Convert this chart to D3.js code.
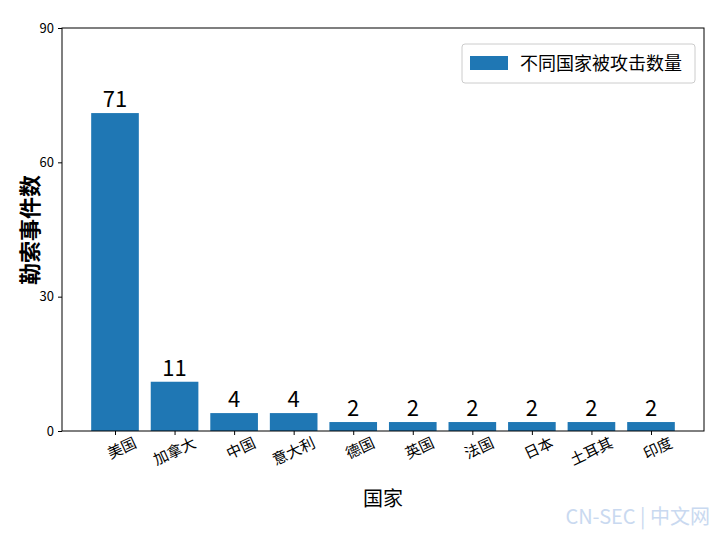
<!DOCTYPE html>
<html><head><meta charset="utf-8">
<script src="https://cdn.jsdelivr.net/npm/d3@7"></script>
<style>body{margin:0;background:#fff}text{font-family:"Noto Sans CJK SC",sans-serif}</style>
</head><body><svg id="c" width="720" height="533"></svg>
<script>
const categories = ["美国","加拿大","中国","意大利","德国","英国","法国","日本","土耳其","印度"];
const values = [71,11,4,4,2,2,2,2,2,2];
const yTicks = [0,30,60,90];
const seriesName = "不同国家被攻击数量";

const svg = d3.select("#c");
const L=62,R=704,T=28,B=431;
const x = d3.scaleLinear().domain([-0.89,9.89]).range([L,R]);
const y = d3.scaleLinear().domain([0,90]).range([B,T]);
const bw = x(0.8)-x(0);

svg.selectAll("rect.bar").data(values).join("rect").attr("class","bar")
 .attr("x",(d,i)=>x(i)-bw/2).attr("width",bw)
 .attr("y",d=>y(d)).attr("height",d=>B-y(d)).attr("fill","#1f77b4");

svg.selectAll("text.val").data(values).join("text").attr("class","val")
 .attr("x",(d,i)=>x(i)).attr("y",d=>y(d)-6).attr("text-anchor","middle")
 .attr("font-size",22).text(d=>d);

const ya = svg.append("g").attr("transform",`translate(${L},0)`)
 .call(d3.axisLeft(y).tickValues(yTicks).tickSize(4).tickPadding(4));
ya.selectAll("text").attr("font-size",13).attr("fill","#000");
const xa = svg.append("g").attr("transform",`translate(0,${B})`)
 .call(d3.axisBottom(x).tickValues(d3.range(categories.length)).tickFormat(i=>categories[i]).tickSize(4));
xa.selectAll("text").attr("font-size",15).attr("fill","#000")
 .attr("text-anchor","end").attr("transform","rotate(-25)").attr("dx","0.9em").attr("dy","1.1em");
svg.selectAll(".domain").remove();
svg.append("rect").attr("x",L).attr("y",T).attr("width",R-L).attr("height",B-T)
 .attr("fill","none").attr("stroke","#000").attr("stroke-width",1);

svg.append("text").attr("transform","translate(38,230) rotate(-90)").attr("text-anchor","middle")
 .attr("font-size",22).attr("font-weight","bold").text("勒索事件数");
svg.append("text").attr("x",383).attr("y",506).attr("text-anchor","middle")
 .attr("font-size",20).text("国家");

const lg = svg.append("g");
lg.append("rect").attr("x",462).attr("y",44).attr("width",233).attr("height",39).attr("rx",3)
 .attr("fill","#fff").attr("stroke","#ccc");
lg.append("rect").attr("x",470).attr("y",56).attr("width",38).attr("height",14).attr("fill","#1f77b4");
lg.append("text").attr("x",520).attr("y",70).attr("font-size",18).text(seriesName);

svg.append("text").attr("x",710).attr("y",524).attr("text-anchor","end").attr("font-size",20)
 .attr("fill","#c9d9f0").attr("font-family","DejaVu Serif").text("CN-SEC | 中文网");
</script></body></html>
